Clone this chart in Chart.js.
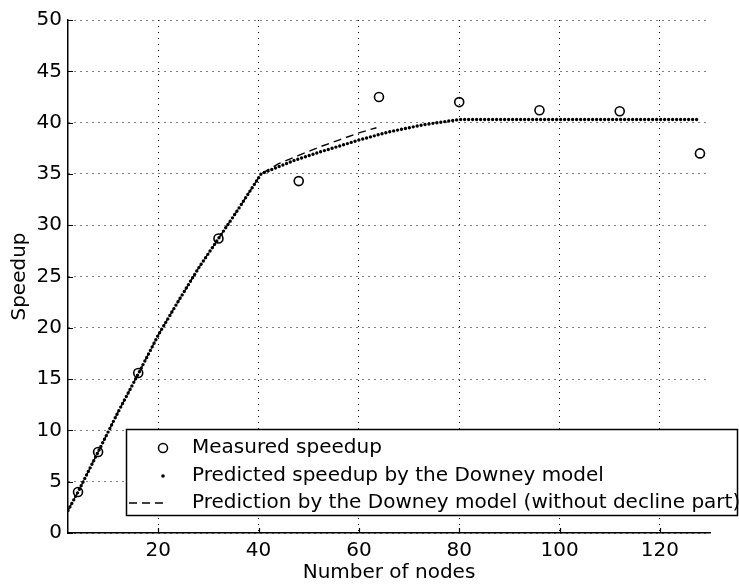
<!DOCTYPE html>
<html>
<head>
<meta charset="utf-8">
<script src="https://cdn.jsdelivr.net/npm/chart.js@4.4.0/dist/chart.umd.min.js"></script>
<style>
  html, body { margin: 0; padding: 0; background: #fff; }
  canvas { display: block; }
</style>
</head>
<body>
<canvas id="speedupChart" width="739" height="587"></canvas>
<script>
// Measured speedup (circles)
var measuredNodes = [4, 8, 16, 32, 48, 64, 80, 96, 112, 128];
var measuredSpeedup = [4.0, 7.9, 15.6, 28.7, 34.3, 42.5, 42.0, 41.2, 41.1, 37.0];

// Predicted speedup by the Downey model (dotted)
var modelNodes = [2, 4, 8, 12, 16, 20, 24, 28, 32, 36, 40.5, 43.5, 47, 52, 56, 60, 66, 73, 80, 96, 112, 128];
var modelSpeedup = [2.2, 4.0, 7.9, 11.8, 15.5, 19.3, 22.6, 25.8, 28.7, 31.6, 35.0, 35.6, 36.3, 37.1, 37.7, 38.3, 39.1, 39.8, 40.3, 40.3, 40.3, 40.3];

// Prediction without decline part (dashed)
var noDeclineNodes = [2, 4, 8, 12, 16, 20, 24, 28, 32, 36, 40.5, 44, 48, 52, 56, 60, 63.5];
var noDeclineSpeedup = [2.2, 4.0, 7.9, 11.8, 15.5, 19.3, 22.6, 25.8, 28.7, 31.6, 35.0, 36.0, 36.8, 37.6, 38.3, 39.0, 39.5];

var xTicks = [20, 40, 60, 80, 100, 120];
var yTicks = [0, 5, 10, 15, 20, 25, 30, 35, 40, 45, 50];

var legendLabels = [
  "Measured speedup",
  "Predicted speedup by the Downey model",
  "Prediction by the Downey model (without decline part)"
];

function toPoints(xs, ys) {
  return xs.map(function (x, i) { return { x: x, y: ys[i] }; });
}

var fontFamily = "'DejaVu Sans', 'Liberation Sans', Arial, sans-serif";

// small MATLAB-style ticks pointing into the plot
var innerTicks = {
  id: 'innerTicks',
  beforeDatasetsDraw: function (chart) {
    var ctx = chart.ctx, xs = chart.scales.x, ys = chart.scales.y;
    var area = chart.chartArea;
    ctx.save();
    ctx.strokeStyle = '#000';
    ctx.lineWidth = 1.2;
    ctx.beginPath();
    xTicks.forEach(function (v) {
      var px = Math.round(xs.getPixelForValue(v)) + 0.5;
      ctx.moveTo(px, area.bottom);
      ctx.lineTo(px, area.bottom - 5);
    });
    yTicks.forEach(function (v) {
      var py = Math.round(ys.getPixelForValue(v)) + 0.5;
      ctx.moveTo(area.left, py);
      ctx.lineTo(area.left + 5, py);
    });
    ctx.stroke();
    ctx.restore();
  }
};

// boxed legend sitting over the lower part of the plot
var boxLegend = {
  id: 'boxLegend',
  afterDraw: function (chart) {
    var ctx = chart.ctx;
    var left = 126.5, top = 429.5, right = 737.5, bottom = 515.5;
    ctx.save();
    ctx.fillStyle = '#fff';
    ctx.fillRect(left, top, right - left, bottom - top);
    ctx.strokeStyle = '#000';
    ctx.lineWidth = 1.5;
    ctx.strokeRect(left, top, right - left, bottom - top);

    var rows = [448, 476, 503];
    var mx = 163;
    // circle marker
    ctx.lineWidth = 1.5;
    ctx.beginPath();
    ctx.arc(mx, rows[0], 4.5, 0, Math.PI * 2);
    ctx.stroke();
    // dot marker
    ctx.fillStyle = '#000';
    ctx.beginPath();
    ctx.arc(mx, rows[1], 1.8, 0, Math.PI * 2);
    ctx.fill();
    // dashed marker
    ctx.lineWidth = 1.3;
    ctx.setLineDash([8, 5]);
    ctx.beginPath();
    ctx.moveTo(129, rows[2]);
    ctx.lineTo(168, rows[2]);
    ctx.stroke();
    ctx.setLineDash([]);

    ctx.font = '20px ' + fontFamily;
    ctx.textBaseline = 'middle';
    ctx.textAlign = 'left';
    legendLabels.forEach(function (t, i) {
      ctx.fillText(t, 192, rows[i]);
    });
    ctx.restore();
  }
};

new Chart(document.getElementById('speedupChart'), {
  type: 'line',
  data: {
    datasets: [
      {
        label: legendLabels[0],
        data: toPoints(measuredNodes, measuredSpeedup),
        showLine: false,
        pointStyle: 'circle',
        pointRadius: 4.5,
        pointBorderWidth: 1.6,
        pointBorderColor: '#000',
        pointBackgroundColor: 'rgba(0,0,0,0)',
        order: 0
      },
      {
        label: legendLabels[1],
        data: toPoints(modelNodes, modelSpeedup),
        borderColor: '#000',
        borderWidth: 3.4,
        borderDash: [0, 4],
        borderCapStyle: 'round',
        pointRadius: 0,
        tension: 0,
        order: 1
      },
      {
        label: legendLabels[2],
        data: toPoints(noDeclineNodes, noDeclineSpeedup),
        borderColor: '#000',
        borderWidth: 1.4,
        borderDash: [8, 5],
        pointRadius: 0,
        tension: 0,
        order: 2
      }
    ]
  },
  options: {
    responsive: false,
    animation: false,
    devicePixelRatio: 1,
    layout: { padding: { left: 0, right: 29, top: 20, bottom: 0 } },
    plugins: {
      legend: { display: false },
      tooltip: { enabled: false }
    },
    scales: {
      x: {
        type: 'linear',
        min: 2,
        max: 130,
        afterBuildTicks: function (scale) {
          scale.ticks = xTicks.map(function (v) { return { value: v }; });
        },
        afterFit: function (scale) { scale.height = 54; },
        grid: { color: '#000', lineWidth: 1, drawTicks: false },
        border: { display: true, color: '#000', width: 1.5, dash: [1, 5] },
        ticks: {
          color: '#000',
          padding: 6,
          maxRotation: 0,
          font: { family: fontFamily, size: 20 }
        },
        title: {
          display: true,
          text: 'Number of nodes',
          color: '#000',
          padding: { top: 0, bottom: 2 },
          font: { family: fontFamily, size: 20 }
        }
      },
      y: {
        type: 'linear',
        min: 0,
        max: 50,
        afterBuildTicks: function (scale) {
          scale.ticks = yTicks.map(function (v) { return { value: v }; });
        },
        afterFit: function (scale) { scale.width = 68; },
        grid: { color: '#000', lineWidth: 1, drawTicks: false },
        border: { display: true, color: '#000', width: 1.5, dash: [1, 5] },
        ticks: {
          color: '#000',
          padding: 6,
          font: { family: fontFamily, size: 20 }
        },
        title: {
          display: true,
          text: 'Speedup',
          color: '#000',
          padding: { top: 8, bottom: 0 },
          font: { family: fontFamily, size: 20 }
        }
      }
    }
  },
  plugins: [innerTicks, boxLegend]
});
</script>
</body>
</html>
